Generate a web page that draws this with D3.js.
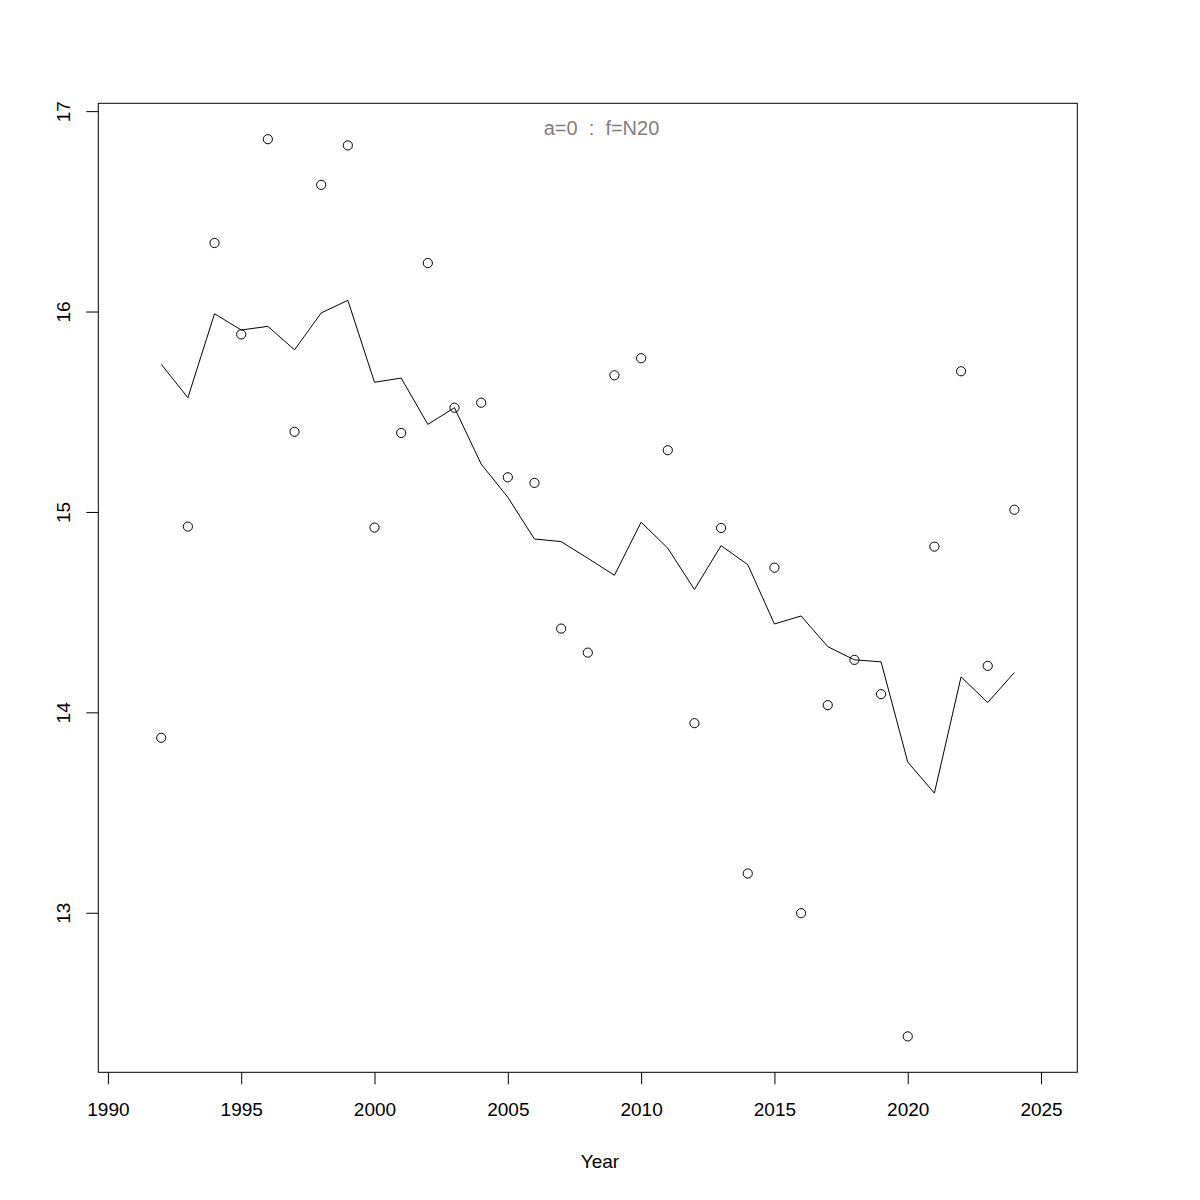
<!DOCTYPE html>
<html>
<head>
<meta charset="utf-8">
<script src="https://cdn.jsdelivr.net/npm/d3@7"></script>
<style>
  html, body { margin: 0; padding: 0; background: #fff; }
  svg { display: block; font-family: "Liberation Sans", Arial, Helvetica, sans-serif; }
</style>
</head>
<body>
<svg id="chart" width="1200" height="1200"></svg>
<script>
const years = [1992,1993,1994,1995,1996,1997,1998,1999,2000,2001,2002,2003,2004,2005,2006,2007,2008,2009,2010,2011,2012,2013,2014,2015,2016,2017,2018,2019,2020,2021,2022,2023,2024];
const observed = [13.873,14.927,16.342,15.886,16.860,15.400,16.632,16.829,14.922,15.394,16.242,15.520,15.545,15.173,15.145,14.418,14.298,15.682,15.767,15.308,13.946,14.920,13.196,14.722,12.998,14.036,14.262,14.091,12.383,14.827,15.702,14.232,15.011];
const fitted = [15.737,15.570,15.989,15.908,15.926,15.809,15.993,16.056,15.647,15.668,15.437,15.520,15.239,15.073,14.865,14.852,14.769,14.684,14.949,14.819,14.613,14.832,14.737,14.441,14.481,14.328,14.262,14.252,13.752,13.597,14.177,14.049,14.199];
const xTicks = [1990,1995,2000,2005,2010,2015,2020,2025];
const yTicks = [13,14,15,16,17];
const xLim = [1991, 2025];
const titleText = "a=0  :  f=N20";
const xLabel = "Year";

const plot = {left: 98.3, right: 1077.3, top: 103.3, bottom: 1072.3};
const svg = d3.select("#chart");

// R-style 4% axis extension
const xPad = (xLim[1] - xLim[0]) * 0.04;
const yMin = d3.min(observed.concat(fitted)), yMax = d3.max(observed.concat(fitted));
const yPad = (yMax - yMin) * 0.04;

const x = d3.scaleLinear().domain([xLim[0] - xPad, xLim[1] + xPad]).range([plot.left, plot.right]);
const y = d3.scaleLinear().domain([yMin - yPad, yMax + yPad]).range([plot.bottom, plot.top]);

const fontSize = 19;

// Box
svg.append("rect")
  .attr("x", plot.left).attr("y", plot.top)
  .attr("width", plot.right - plot.left).attr("height", plot.bottom - plot.top)
  .attr("fill", "none").attr("stroke", "#000").attr("stroke-width", 1);

// X axis
const gx = svg.append("g").attr("transform", `translate(0,${plot.bottom})`)
  .call(d3.axisBottom(x).tickValues(xTicks).tickSize(12).tickSizeOuter(0).tickFormat(d3.format("d")));
gx.select(".domain").remove();
gx.selectAll(".tick line").attr("stroke", "#000");
gx.selectAll(".tick text")
  .attr("y", 44).attr("dy", 0)
  .attr("fill", "#000")
  .style("font-size", fontSize + "px")
  .style("font-family", "'Liberation Sans', Arial, sans-serif");

// Y axis
const gy = svg.append("g").attr("transform", `translate(${plot.left},0)`)
  .call(d3.axisLeft(y).tickValues(yTicks).tickSize(12).tickSizeOuter(0).tickFormat(d3.format("d")));
gy.select(".domain").remove();
gy.selectAll(".tick line").attr("stroke", "#000");
gy.selectAll(".tick text")
  .attr("x", 0).attr("y", 0).attr("dy", 0)
  .attr("text-anchor", "middle")
  .attr("transform", "translate(-28,0) rotate(-90)")
  .attr("fill", "#000")
  .style("font-size", fontSize + "px")
  .style("font-family", "'Liberation Sans', Arial, sans-serif");

// Fitted line
const line = d3.line().x((d, i) => x(years[i])).y(d => y(d));
svg.append("path")
  .datum(fitted)
  .attr("d", line)
  .attr("fill", "none")
  .attr("stroke", "#000")
  .attr("stroke-width", 1);

// Observed points
svg.append("g").selectAll("circle")
  .data(observed)
  .join("circle")
  .attr("cx", (d, i) => x(years[i]))
  .attr("cy", d => y(d))
  .attr("r", 4.6)
  .attr("fill", "none")
  .attr("stroke", "#000")
  .attr("stroke-width", 1);

// Title inside plot
svg.append("text")
  .attr("x", 601.5)
  .attr("y", 135)
  .attr("text-anchor", "middle")
  .attr("fill", "#7f7f7f")
  .style("font-size", "20px")
  .style("white-space", "pre")
  .attr("xml:space", "preserve")
  .text(titleText);

// X label
svg.append("text")
  .attr("x", 600)
  .attr("y", 1168)
  .attr("text-anchor", "middle")
  .attr("fill", "#000")
  .style("font-size", fontSize + "px")
  .text(xLabel);
</script>
</body>
</html>
